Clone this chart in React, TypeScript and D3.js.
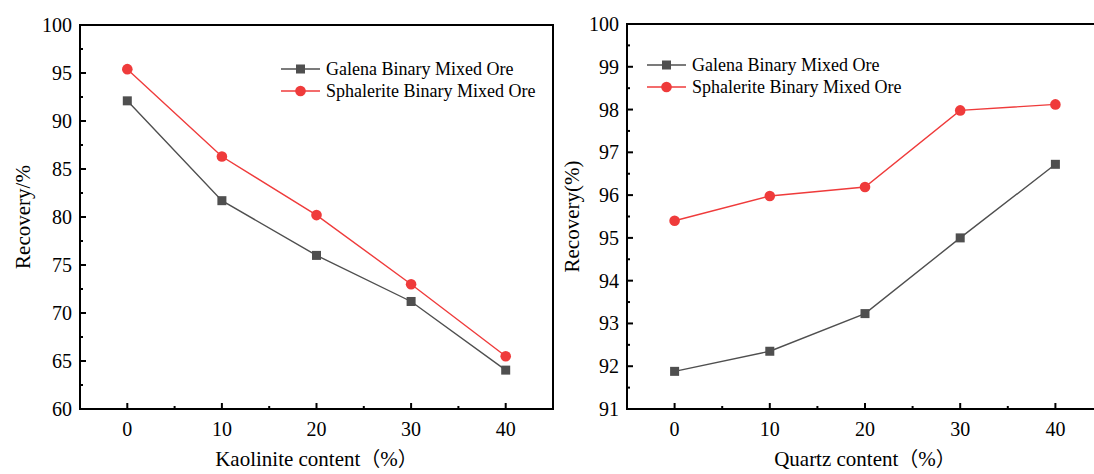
import React, { useEffect, useRef } from "react";
import * as d3 from "d3";

// x positions shared by both panels
const contents = [0, 10, 20, 30, 40];

// left panel: kaolinite
const kaoGalena = [92.1, 81.7, 76.0, 71.2, 64.05];
const kaoSphalerite = [95.4, 86.3, 80.2, 73.0, 65.5];

// right panel: quartz
const qtzGalena = [91.88, 92.35, 93.23, 95.0, 96.72];
const qtzSphalerite = [95.4, 95.98, 96.19, 97.98, 98.12];

const seriesNames = ["Galena Binary Mixed Ore", "Sphalerite Binary Mixed Ore"];
const seriesColors = ["#4f4f4f", "#ef3b3b"];

const FONT = "'Times New Roman', 'Liberation Serif', serif";
const CJK = "'Noto Sans CJK SC', sans-serif";

const drawPanel = (svg, opts) => {
    const { left, right, top, bottom, ydomain, ymajor, xtitle, ytitle, ytitleX, series, legend } = opts;

    const x = d3.scaleLinear().domain([-5, 45]).range([left, right]);
    const y = d3.scaleLinear().domain(ydomain).range([bottom, top]);

    const g = svg.append("g");

    // frame
    g.append("rect")
        .attr("x", left)
        .attr("y", top)
        .attr("width", right - left)
        .attr("height", bottom - top)
        .attr("fill", "none")
        .attr("stroke", "#000")
        .attr("stroke-width", 2);

    // x ticks (inward)
    const xmajor = contents;
    const xminor = [5, 15, 25, 35];
    g.selectAll(".xmaj").data(xmajor).enter().append("line")
        .attr("x1", (d) => x(d)).attr("x2", (d) => x(d))
        .attr("y1", bottom).attr("y2", bottom - 6)
        .attr("stroke", "#000").attr("stroke-width", 2);
    g.selectAll(".xmin").data(xminor).enter().append("line")
        .attr("x1", (d) => x(d)).attr("x2", (d) => x(d))
        .attr("y1", bottom).attr("y2", bottom - 3)
        .attr("stroke", "#000").attr("stroke-width", 2);
    g.selectAll(".xlab").data(xmajor).enter().append("text")
        .attr("x", (d) => x(d))
        .attr("y", bottom + 27)
        .attr("text-anchor", "middle")
        .attr("font-family", FONT)
        .attr("font-size", 20)
        .text((d) => d);

    // y ticks (inward)
    const yticks = d3.range(ydomain[0], ydomain[1] + 0.001, ymajor);
    const yminor = d3.range(ydomain[0] + ymajor / 2, ydomain[1], ymajor);
    g.selectAll(".ymaj").data(yticks).enter().append("line")
        .attr("x1", left).attr("x2", left + 6)
        .attr("y1", (d) => y(d)).attr("y2", (d) => y(d))
        .attr("stroke", "#000").attr("stroke-width", 2);
    g.selectAll(".ymin").data(yminor).enter().append("line")
        .attr("x1", left).attr("x2", left + 3)
        .attr("y1", (d) => y(d)).attr("y2", (d) => y(d))
        .attr("stroke", "#000").attr("stroke-width", 2);
    g.selectAll(".ylab").data(yticks).enter().append("text")
        .attr("x", left - 8)
        .attr("y", (d) => y(d))
        .attr("dy", "0.35em")
        .attr("text-anchor", "end")
        .attr("font-family", FONT)
        .attr("font-size", 20)
        .text((d) => d);

    // axis titles: latin part in serif, full-width brackets in CJK font
    const xt = g.append("text")
        .attr("x", (x(0) + x(40)) / 2)
        .attr("y", bottom + 57)
        .attr("text-anchor", "middle")
        .attr("font-family", FONT)
        .attr("font-size", 21);
    xt.append("tspan").text(xtitle);
    xt.append("tspan").attr("font-family", CJK).attr("font-size", 20).text("（");
    xt.append("tspan").text("%");
    xt.append("tspan").attr("font-family", CJK).attr("font-size", 20).text("）");

    g.append("text")
        .attr("transform", `translate(${ytitleX},${(top + bottom) / 2}) rotate(-90)`)
        .attr("text-anchor", "middle")
        .attr("dy", "0.35em")
        .attr("font-family", FONT)
        .attr("font-size", 21)
        .text(ytitle);

    // series
    const line = d3.line().x((d) => x(d[0])).y((d) => y(d[1]));
    series.forEach((vals, i) => {
        const pts = contents.map((c, j) => [c, vals[j]]);
        g.append("path")
            .attr("d", line(pts))
            .attr("fill", "none")
            .attr("stroke", seriesColors[i])
            .attr("stroke-width", 1.4);
        if (i === 0) {
            g.selectAll(".sq").data(pts).enter().append("rect")
                .attr("x", (d) => x(d[0]) - 4.5)
                .attr("y", (d) => y(d[1]) - 4.5)
                .attr("width", 9).attr("height", 9)
                .attr("fill", seriesColors[i]);
        } else {
            g.selectAll(".ci").data(pts).enter().append("circle")
                .attr("cx", (d) => x(d[0]))
                .attr("cy", (d) => y(d[1]))
                .attr("r", 5.3)
                .attr("fill", seriesColors[i]);
        }
    });

    // legend
    seriesNames.forEach((name, i) => {
        const ly = legend.y + i * 22;
        g.append("line")
            .attr("x1", legend.x).attr("x2", legend.x + 39)
            .attr("y1", ly).attr("y2", ly)
            .attr("stroke", seriesColors[i]).attr("stroke-width", 1.4);
        if (i === 0) {
            g.append("rect")
                .attr("x", legend.x + 19.5 - 4.5).attr("y", ly - 4.5)
                .attr("width", 9).attr("height", 9)
                .attr("fill", seriesColors[i]);
        } else {
            g.append("circle")
                .attr("cx", legend.x + 19.5).attr("cy", ly).attr("r", 5.3)
                .attr("fill", seriesColors[i]);
        }
        g.append("text")
            .attr("x", legend.x + 45)
            .attr("y", ly)
            .attr("dy", "0.33em")
            .attr("font-family", FONT)
            .attr("font-size", 18)
            .text(name);
    });
};

const Chart = () => {
    const container = useRef(null);

    useEffect(() => {
        const el = container.current;
        el.innerHTML = "";

        const svg = d3.select(el)
            .append("svg")
            .attr("width", 1094)
            .attr("height", 474)
            .style("position", "absolute")
            .style("left", "0px")
            .style("top", "0px")
            .style("background", "#fff");

        drawPanel(svg, {
            left: 80, right: 553, top: 25, bottom: 409,
            ydomain: [60, 100], ymajor: 5,
            xtitle: "Kaolinite content",
            ytitle: "Recovery/%", ytitleX: 23,
            series: [kaoGalena, kaoSphalerite],
            legend: { x: 281, y: 69 },
        });

        drawPanel(svg, {
            left: 627, right: 1103, top: 24, bottom: 409,
            ydomain: [91, 100], ymajor: 1,
            xtitle: "Quartz content",
            ytitle: "Recovery(%)", ytitleX: 572,
            series: [qtzGalena, qtzSphalerite],
            legend: { x: 647, y: 65 },
        });
    }, []);

    return <div ref={container}></div>;
};

export default function App() {
    return <Chart />;
}
